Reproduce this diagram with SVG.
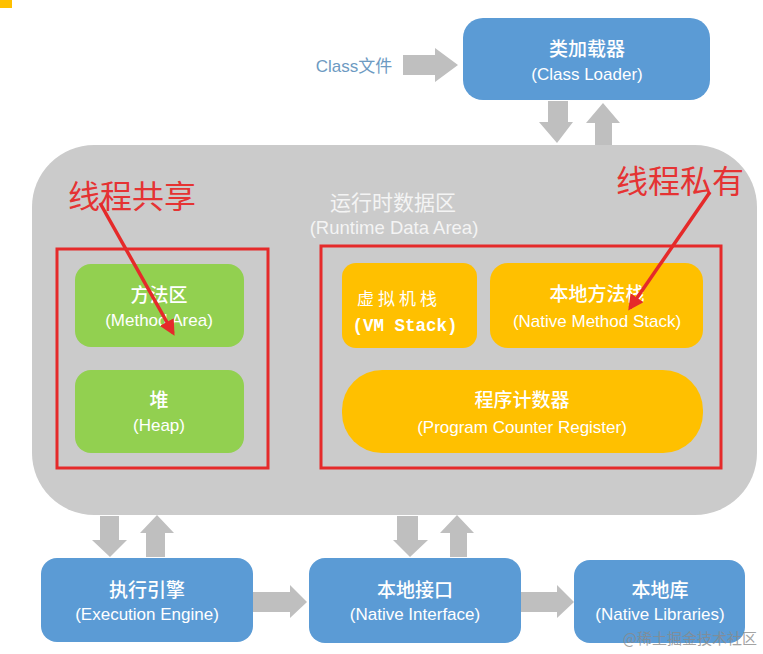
<svg xmlns="http://www.w3.org/2000/svg" width="763" height="654" viewBox="0 0 763 654">
<defs>
<style>
.blue{fill:#5b9bd5}
.green{fill:#92d050}
.yellow{fill:#ffc000}
.t{font-family:"Liberation Sans","Noto Sans CJK SC",sans-serif;fill:#ffffff;text-anchor:middle}
.cn{font-size:19px;font-weight:500}
.en{font-size:17px}
.ga{fill:#bfbfbf}
.red{fill:none;stroke:#e52a2a;stroke-width:3}
.rt{font-family:"Noto Sans CJK SC",sans-serif;fill:#e53333;font-size:32px}
.rl{stroke:#e52a2a;stroke-width:3.5;fill:none}
</style>
<marker id="ra" viewBox="0 0 10 10" refX="8" refY="5" markerWidth="4.5" markerHeight="4.5" orient="auto" markerUnits="strokeWidth">
<path d="M0,0 L10,5 L0,10 z" fill="#e52a2a"/>
</marker>
</defs>
<rect width="763" height="654" fill="#ffffff"/>
<rect x="0" y="0" width="12" height="8" fill="#ffc000"/>

<g id="runtime-data-area">
<rect x="32" y="145" width="725" height="370" rx="62" fill="#cbcbcb"/>
<text class="t" x="393" y="210" font-size="21" style="fill:#f4f4f4">运行时数据区</text>
<text class="t" x="394" y="234" font-size="18.5" style="fill:#f4f4f4">(Runtime Data Area)</text>
</g>

<g id="connectors">
<polygon class="ga" points="403,55 435,55 435,48 458,65 435,82 435,75 403,75"/>
<polygon class="ga" points="548,101 568,101 568,122 573,122 557,143 539,122 548,122"/>
<polygon class="ga" points="595,145 612,145 612,123 620,123 603,103 586,123 595,123"/>
<polygon class="ga" points="100,516 119,516 119,540 127,540 110,557 92,540 100,540"/>
<polygon class="ga" points="146,557 165,557 165,533 174,533 157,515 140,533 146,533"/>
<polygon class="ga" points="397,516 418,516 418,540 428,540 410,557 393,540 397,540"/>
<polygon class="ga" points="450,557 467,557 467,533 474,533 457,515 440,533 450,533"/>
<polygon class="ga" points="253,592 290,592 290,585 307,602 290,618 290,612 253,612"/>
<polygon class="ga" points="521,592 557,592 557,585 574,602 557,618 557,612 521,612"/>
</g>

<g id="class-file">
<text x="354" y="72" font-family="Liberation Sans,'Noto Sans CJK SC',sans-serif" font-size="17" fill="#6d9ac2" text-anchor="middle">Class文件</text>
</g>

<g id="class-loader">
<rect class="blue" x="463" y="18" width="247" height="82" rx="20"/>
<text class="t cn" x="587" y="56">类加载器</text>
<text class="t en" x="587" y="80">(Class Loader)</text>
</g>

<g id="thread-shared">
<rect class="red" x="57" y="249" width="211" height="219"/>
<text class="rt" x="68" y="208">线程共享</text>
</g>

<g id="method-area">
<rect class="green" x="75" y="264" width="169" height="83" rx="16"/>
<text class="t cn" x="159" y="302">方法区</text>
<text class="t en" x="159" y="326">(Method Area)</text>
</g>

<g id="heap">
<rect class="green" x="75" y="370" width="169" height="83" rx="16"/>
<text class="t cn" x="159" y="407">堆</text>
<text class="t en" x="159" y="431">(Heap)</text>
</g>

<g id="thread-private">
<rect class="red" x="321" y="246" width="400" height="222"/>
<text class="rt" x="616" y="193">线程私有</text>
</g>

<g id="vm-stack">
<rect class="yellow" x="342" y="263" width="135" height="85" rx="14"/>
<text class="t" x="399" y="305" font-size="17" letter-spacing="4" style="font-family:'Liberation Mono','Noto Sans CJK SC',monospace">虚拟机栈</text>
<text class="t" x="405" y="331" font-size="17.5" font-weight="bold" style="font-family:'Liberation Mono','Noto Sans CJK SC',monospace">(VM Stack)</text>
</g>

<g id="native-method-stack">
<rect class="yellow" x="490" y="263" width="213" height="85" rx="18"/>
<text class="t cn" x="597" y="301">本地方法栈</text>
<text class="t en" x="597" y="327">(Native Method Stack)</text>
</g>

<g id="program-counter">
<rect class="yellow" x="342" y="370" width="361" height="83" rx="40"/>
<text class="t cn" x="522" y="407">程序计数器</text>
<text class="t en" x="522" y="433">(Program Counter Register)</text>
</g>

<g id="execution-engine">
<rect class="blue" x="41" y="558" width="212" height="84" rx="16"/>
<text class="t cn" x="147" y="597">执行引擎</text>
<text class="t en" x="147" y="620">(Execution Engine)</text>
</g>

<g id="native-interface">
<rect class="blue" x="309" y="558" width="212" height="85" rx="16"/>
<text class="t cn" x="415" y="597">本地接口</text>
<text class="t en" x="415" y="620">(Native Interface)</text>
</g>

<g id="native-libraries">
<rect class="blue" x="574" y="560" width="171" height="83" rx="16"/>
<text class="t cn" x="660" y="597">本地库</text>
<text class="t en" x="660" y="620">(Native Libraries)</text>
</g>

<g id="annotation-arrows">
<line class="rl" x1="100" y1="203" x2="173" y2="333" marker-end="url(#ra)"/>
<line class="rl" x1="710" y1="192" x2="630" y2="308" marker-end="url(#ra)"/>
</g>

<g id="watermark">
<text x="757" y="644" font-family="'Noto Sans CJK SC',sans-serif" font-size="15" fill="#8a8a8a" fill-opacity="0.8" text-anchor="end">@稀土掘金技术社区</text>
</g>
</svg>
